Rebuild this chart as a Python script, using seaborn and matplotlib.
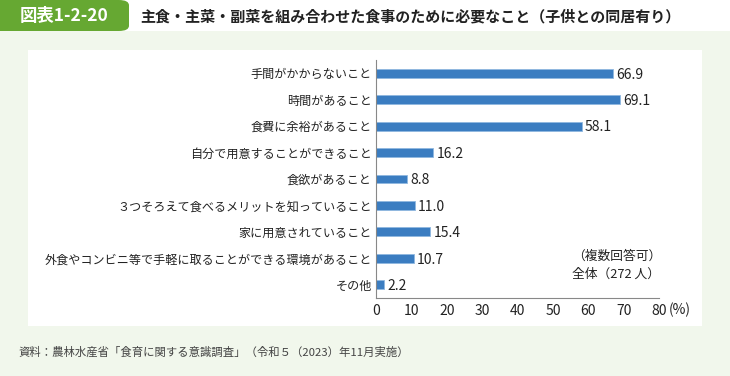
import matplotlib
matplotlib.use("Agg")
import matplotlib.pyplot as plt
import seaborn as sns
import pandas as pd
from matplotlib.patches import Rectangle, FancyBboxPatch

categories = [
    "手間がかからないこと",
    "時間があること",
    "食費に余裕があること",
    "自分で用意することができること",
    "食欲があること",
    "３つそろえて食べるメリットを知っていること",
    "家に用意されていること",
    "外食やコンビニ等で手軽に取ることができる環境があること",
    "その他",
]
values = [66.9, 69.1, 58.1, 16.2, 8.8, 11.0, 15.4, 10.7, 2.2]
xticks = [0, 10, 20, 30, 40, 50, 60, 70, 80]

df = pd.DataFrame({"item": categories, "pct": values})

sns.set_theme(style="white")
plt.rcParams["font.family"] = ["Noto Sans CJK JP", "DejaVu Sans"]

W, H = 730, 376
fig = plt.figure(figsize=(W / 100, H / 100), dpi=100)
fig.patch.set_facecolor("#f1f7ec")

def fx(px):
    return px / W

def fy(py):
    return 1 - py / H

# top white band
fig.patches.append(Rectangle((0, fy(31)), 1, 31 / H, transform=fig.transFigure,
                             facecolor="white", edgecolor="none", zorder=-3))
# green label box
fig.patches.append(FancyBboxPatch((0, fy(31)), fx(129), 31 / H,
                                  boxstyle="round,pad=0,rounding_size=0.014",
                                  transform=fig.transFigure,
                                  facecolor="#66a832", edgecolor="none", zorder=-2))
fig.patches.append(Rectangle((0, fy(31)), fx(90), 31 / H, transform=fig.transFigure,
                             facecolor="#66a832", edgecolor="none", zorder=-2))
# white panel
fig.patches.append(Rectangle((fx(28), fy(326)), fx(702 - 28), (326 - 50) / H,
                             transform=fig.transFigure,
                             facecolor="white", edgecolor="none", zorder=-3))

fig.text(fx(64), fy(16), "図表1-2-20", color="white", fontsize=12.5, fontweight="bold",
         ha="center", va="center")
fig.text(fx(140), fy(16), "主食・主菜・副菜を組み合わせた食事のために必要なこと（子供との同居有り）",
         color="#222222", fontsize=10.8, fontweight="bold", ha="left", va="center")

ax = fig.add_axes([fx(376), fy(298), fx(659 - 376), (298 - 60) / H])
ax.set_zorder(5)
ax.set_facecolor("none")

sns.barplot(data=df, x="pct", y="item", orient="h", color="#3b7dc1",
            saturation=1, width=0.34, edgecolor="#8fb8e0", linewidth=0.6, ax=ax)

for i, v in enumerate(values):
    ax.text(v + 0.9, i + 0.05, f"{v:.1f}", va="center", ha="left", fontsize=10, color="#222222")

ax.set_xlim(0, 80)
ax.set_ylim(8.5, -0.5)
ax.set_xticks(xticks)
ax.set_xticklabels([str(t) for t in xticks], fontsize=10, color="#222222")
ax.tick_params(axis="x", direction="in", length=4, width=0.8, color="#888888", pad=4)
ax.tick_params(axis="y", length=0, pad=3, labelsize=8.7, labelcolor="#222222")
ax.set_xlabel("")
ax.set_ylabel("")
for s in ["top", "right"]:
    ax.spines[s].set_visible(False)
for s in ["left", "bottom"]:
    ax.spines[s].set_color("#888888")
    ax.spines[s].set_linewidth(0.8)

fig.text(fx(669), fy(310), "(%)", fontsize=10, color="#222222", ha="left", va="center")
fig.text(fx(617), fy(256), "（複数回答可）", fontsize=9.2, color="#222222", ha="center", va="center")
fig.text(fx(616), fy(274), "全体（272 人）", fontsize=9.2, color="#222222", ha="center", va="center")

fig.text(fx(18), fy(352), "資料：農林水産省「食育に関する意識調査」（令和５（2023）年11月実施）",
         fontsize=8.2, color="#444444", ha="left", va="center")

fig.savefig("out.png", dpi=100, facecolor=fig.get_facecolor())
